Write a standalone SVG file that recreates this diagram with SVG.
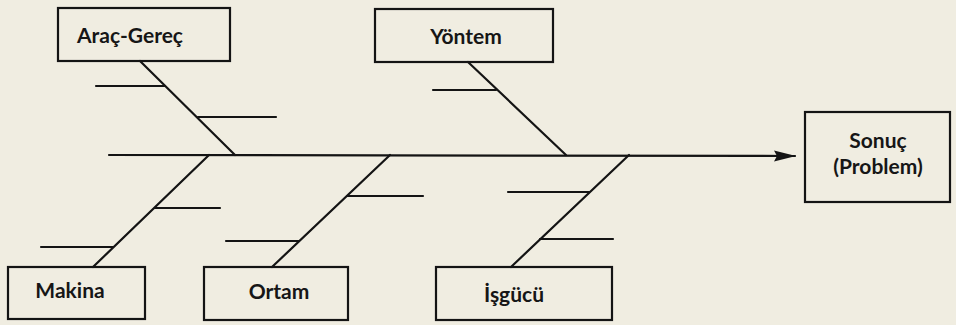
<svg xmlns="http://www.w3.org/2000/svg" width="956" height="325" viewBox="0 0 956 325">
  <style>
    .box { fill: none; stroke: #141414; stroke-width: 2.2; }
    .bone { fill: none; stroke: #141414; stroke-width: 2.2; stroke-linecap: round; }
    .label { font-family: Lato, "Open Sans", "Liberation Sans", sans-serif; font-weight: bold; font-size: 21px; fill: #161616; text-anchor: middle; }
  </style>
  <defs>
    <marker id="arrow" viewBox="0 0 22 12" refX="21" refY="6" markerWidth="22" markerHeight="12" markerUnits="userSpaceOnUse" orient="auto">
      <path d="M0,0.5 L22,6 L0,11.5 L3,6 Z" fill="#141414"/>
    </marker>
  </defs>

  <!-- paper -->
  <rect x="0" y="0" width="956" height="325" fill="#f0ede1"/>

  <!-- bones of the fishbone -->
  <g id="connectors">
    <!-- spine towards the result -->
    <line class="bone" x1="109" y1="155" x2="795" y2="156" marker-end="url(#arrow)"/>

    <!-- Araç-Gereç branch -->
    <line class="bone" x1="140" y1="61" x2="235" y2="155"/>
    <line class="bone" x1="96" y1="86" x2="165" y2="86"/>
    <line class="bone" x1="198" y1="117" x2="276" y2="117"/>

    <!-- Yöntem branch -->
    <line class="bone" x1="468" y1="62" x2="566" y2="155"/>
    <line class="bone" x1="433" y1="90" x2="496" y2="90"/>

    <!-- Makina branch -->
    <line class="bone" x1="209" y1="155" x2="93" y2="267"/>
    <line class="bone" x1="155" y1="208" x2="220" y2="208"/>
    <line class="bone" x1="41" y1="247" x2="113" y2="247"/>

    <!-- Ortam branch -->
    <line class="bone" x1="390" y1="155" x2="272" y2="267"/>
    <line class="bone" x1="347" y1="196" x2="423" y2="196"/>
    <line class="bone" x1="226" y1="241" x2="299" y2="241"/>

    <!-- İşgücü branch -->
    <line class="bone" x1="629" y1="155" x2="511" y2="267"/>
    <line class="bone" x1="508" y1="192" x2="589" y2="192"/>
    <line class="bone" x1="540" y1="239" x2="613" y2="239"/>
  </g>

  <g id="arac-gerec">
    <rect class="box" x="58" y="8" width="172" height="53"/>
    <text class="label" x="130" y="43">Araç-Gereç</text>
  </g>

  <g id="yontem">
    <rect class="box" x="375" y="9" width="178" height="53"/>
    <text class="label" x="466" y="44">Yöntem</text>
  </g>

  <g id="sonuc">
    <rect class="box" x="805" y="112" width="145" height="90"/>
    <text class="label" x="878" y="148">Sonuç</text>
    <text class="label" x="878" y="174">(Problem)</text>
  </g>

  <g id="makina">
    <rect class="box" x="8" y="267" width="137" height="52"/>
    <text class="label" x="70" y="298">Makina</text>
  </g>

  <g id="ortam">
    <rect class="box" x="204" y="267" width="144" height="53"/>
    <text class="label" x="279" y="299">Ortam</text>
  </g>

  <g id="isgucu">
    <rect class="box" x="436" y="267" width="176" height="53"/>
    <text class="label" x="514" y="302">İşgücü</text>
  </g>
</svg>
